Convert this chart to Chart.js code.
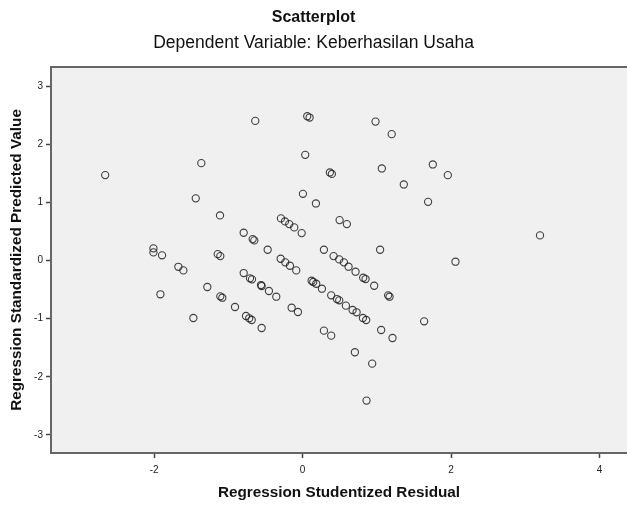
<!DOCTYPE html>
<html>
<head>
<meta charset="utf-8">
<script src="https://cdn.jsdelivr.net/npm/chart.js@4/dist/chart.umd.min.js"></script>
<style>
  body { margin: 0; background: #fff; }
  #wrap { width: 627px; height: 506px; }
</style>
</head>
<body>
<div id="wrap"><canvas id="scatter" width="627" height="506"></canvas></div>
<script>
// residual (x) and predicted value (y)
const residuals = [
  -2.66, -1.365, -1.44, -1.113, -2.01, -2.01, -1.894, -1.144, -1.109, -1.674,
  -1.607, -1.916, -1.284, -1.109, -1.082, -0.911, -1.472, -0.638, 0.062, 0.094,
  0.982, 1.20, 0.035, 0.367, 0.394, 1.067, 0.004, 0.179, -0.292, -0.238,
  -0.18, -0.113, -0.013, 0.498, 0.596, -0.794, -0.673, -0.651, -0.471, 0.287,
  1.044, 1.754, 1.956, 1.363, 1.69, 3.198, -0.296, -0.234, -0.171, -0.086,
  0.417, 0.493, 0.556, 0.619, 0.713, 0.816, 0.848, 0.964, 1.152, 1.171,
  -0.794, -0.709, -0.682, -0.561, -0.552, -0.454, -0.355, -0.763, -0.719, -0.686,
  -0.552, -0.148, -0.063, 0.121, 0.143, 0.183, 0.26, 0.385, 0.462, 0.493,
  0.583, 0.673, 0.727, 0.812, 0.856, 0.287, 0.385, 1.058, 1.211, 0.704,
  0.937, 0.861, 2.059, 1.637
];
const predicted = [
  1.47, 1.675, 1.07, 0.776, 0.21, 0.14, 0.09, 0.11, 0.077, -0.107,
  -0.169, -0.58, -0.455, -0.615, -0.639, -0.799, -0.988, 2.402, 2.483, 2.46,
  2.39, 2.174, 1.818, 1.515, 1.49, 1.584, 1.148, 0.982, 0.725, 0.673,
  0.627, 0.57, 0.472, 0.696, 0.627, 0.478, 0.369, 0.347, 0.186, 0.186,
  0.186, 1.653, 1.469, 1.309, 1.01, 0.433, 0.031, -0.031, -0.089, -0.169,
  0.077, 0.02, -0.031, -0.106, -0.192, -0.296, -0.318, -0.433, -0.598, -0.622,
  -0.215, -0.306, -0.323, -0.421, -0.438, -0.524, -0.622, -0.954, -0.993, -1.022,
  -1.16, -0.811, -0.885, -0.347, -0.369, -0.399, -0.484, -0.598, -0.662, -0.684,
  -0.776, -0.85, -0.89, -0.988, -1.022, -1.206, -1.292, -1.194, -1.332, -1.577,
  -1.773, -2.409, -0.02, -1.045
];
const xTicks = [-2, 0, 2, 4];
const yTicks = [3, 2, 1, 0, -1, -2, -3];

const points = residuals.map((x, i) => ({x: x, y: predicted[i]}));

// grey plot background plus frame around the chart area
const plotFrame = {
  id: 'plotFrame',
  beforeDraw(chart) {
    const {ctx, chartArea: a} = chart;
    ctx.save();
    ctx.fillStyle = '#f0f0f0';
    ctx.fillRect(a.left, a.top, a.right - a.left, a.bottom - a.top);
    ctx.restore();
  },
  afterDraw(chart) {
    const {ctx, chartArea: a} = chart;
    ctx.save();
    ctx.strokeStyle = '#666';
    ctx.lineWidth = 2;
    ctx.beginPath();
    ctx.moveTo(a.right + 2, a.top);
    ctx.lineTo(a.left, a.top);
    ctx.lineTo(a.left, a.bottom);
    ctx.lineTo(a.right + 2, a.bottom);
    ctx.stroke();
    ctx.restore();
  }
};

const tickFont = {family: 'Liberation Sans, Arial, sans-serif', size: 10};
const titleFont = {family: 'Liberation Sans, Arial, sans-serif', size: 15.3, weight: 'bold', lineHeight: 1.2};

new Chart('scatter', {
  type: 'scatter',
  data: {
    datasets: [{
      data: points,
      pointStyle: 'circle',
      pointRadius: 3.6,
      pointHoverRadius: 3.6,
      borderWidth: 1.1,
      borderColor: 'rgba(30,30,30,0.85)',
      backgroundColor: 'rgba(0,0,0,0)'
    }]
  },
  options: {
    responsive: false,
    animation: false,
    layout: {autoPadding: false, padding: {left: 0, right: 0, top: 0, bottom: 0}},
    plugins: {
      legend: {display: false},
      tooltip: {enabled: false},
      title: {
        display: true,
        text: 'Scatterplot',
        color: '#111',
        font: {family: 'Liberation Sans, Arial, sans-serif', size: 16, weight: 'bold', lineHeight: 1.2},
        padding: {top: 8, bottom: 0}
      },
      subtitle: {
        display: true,
        text: 'Dependent Variable: Keberhasilan Usaha',
        color: '#111',
        font: {family: 'Liberation Sans, Arial, sans-serif', size: 17.5, lineHeight: 1.1},
        padding: {top: 6, bottom: 14.5}
      }
    },
    scales: {
      x: {
        type: 'linear',
        min: -3.39,
        max: 4.37,
        afterBuildTicks: s => { s.ticks = xTicks.map(v => ({value: v})); },
        afterFit: s => { s.height = 53; },
        grid: {drawOnChartArea: false, drawTicks: true, tickLength: 5, tickColor: '#444', tickWidth: 1.5},
        border: {display: false},
        ticks: {font: tickFont, color: '#222', padding: 6, maxRotation: 0},
        title: {display: true, text: 'Regression Studentized Residual', color: '#111', font: titleFont, padding: {top: 0, bottom: 3.8}}
      },
      y: {
        type: 'linear',
        min: -3.31,
        max: 3.33,
        afterBuildTicks: s => { s.ticks = yTicks.map(v => ({value: v})); },
        afterFit: s => { s.width = 51; },
        grid: {drawOnChartArea: false, drawTicks: true, tickLength: 5, tickColor: '#444', tickWidth: 1.5},
        border: {display: false},
        ticks: {font: tickFont, color: '#222', padding: 3},
        title: {display: true, text: 'Regression Standardized Predicted Value', color: '#111', font: titleFont, padding: {top: 7.8, bottom: 0}}
      }
    }
  },
  plugins: [plotFrame]
});
</script>
</body>
</html>
